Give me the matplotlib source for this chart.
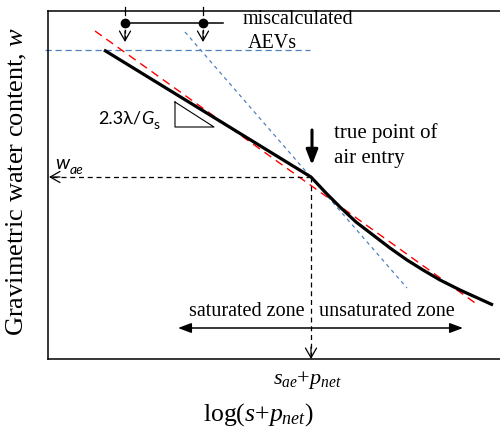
"""
Schematic soil-water characteristic curve (w vs log(s+p_net)).

Shows the true air-entry point and the AEVs that come out
when a straight line is fitted instead.
"""
import matplotlib
matplotlib.use('Agg')
from matplotlib import pyplot as plt

plt.rcParams['font.family'] = ['Liberation Serif', 'DejaVu Serif']
plt.rcParams['mathtext.fontset'] = 'custom'
plt.rcParams['mathtext.rm'] = 'Liberation Serif'
plt.rcParams['mathtext.it'] = 'Liberation Serif:italic'

# --- data (schematic units) ---
# measured curve: log(s+p_net) vs w
curve_logs = [56, 263, 278, 292, 308, 325, 342, 359, 375, 392, 412, 445]
curve_w = [309, 182, 166, 152, 137, 124, 111, 99, 89, 79, 69, 54]

# straight-line fit over whole curve (red) and unsaturated branch (blue)
red_fit_logs = [47, 430]
red_fit_w = [328, 54]
blue_fit_logs = [137, 359]
blue_fit_w = [327, 71]

# saturated water content level
w_sat = 309
w_sat_logs = [-3, 262]

# true air entry point
ae_logs = 263
ae_w = 182

# miscalculated AEVs
aev_logs = [77, 155]
aev_line_end = 175
aev_w = 336

# zone arrow
zone_logs = [130, 415]
zone_w = 31

# slope triangle
tri_logs = [127, 127, 166, 127]
tri_w = [257, 232, 232, 257]

SANS = 'Lato'
BLUE = '#4f81bd'

fig = plt.figure(figsize=(5.0, 4.34), dpi=100)
ax = fig.add_axes([48 / 500, 75 / 434, 452 / 500, 348 / 434])
ax.set_xlim(0, 452)
ax.set_ylim(0, 348)
ax.set_xticks([])
ax.set_yticks([])
ax.spines['right'].set_visible(False)
for s in ['left', 'top', 'bottom']:
    ax.spines[s].set_linewidth(1.1)

# fitted lines
ax.plot(w_sat_logs, [w_sat, w_sat], color=BLUE, lw=0.9, dashes=(5, 3), clip_on=False)
ax.plot(red_fit_logs, red_fit_w, color='red', lw=1.0, dashes=(6, 4))
ax.plot(blue_fit_logs, blue_fit_w, color=BLUE, lw=0.9, dashes=(3, 3))

# measured curve
ax.plot(curve_logs, curve_w, color='black', lw=2.3, solid_joinstyle='round',
        solid_capstyle='butt')

# projections of the air entry point
ax.plot([ae_logs, 3], [ae_w, ae_w], color='black', lw=0.9, dashes=(4, 3))
ax.plot([ae_logs, ae_logs], [ae_w, 2], color='black', lw=0.9, dashes=(4, 3))
open_head = dict(arrowstyle='->,head_length=0.7,head_width=0.4', lw=0.9,
                 color='black', shrinkA=0, shrinkB=0)
ax.annotate('', xy=(1, ae_w), xytext=(12, ae_w), arrowprops=open_head,
            annotation_clip=False)
ax.annotate('', xy=(ae_logs, 0), xytext=(ae_logs, 12), arrowprops=open_head,
            annotation_clip=False)

# big arrow pointing to true AEV
ax.annotate('', xy=(ae_logs + 1, ae_w + 12), xytext=(ae_logs + 1, ae_w + 47),
            arrowprops=dict(arrowstyle='-|>,head_length=0.9,head_width=0.35',
                            lw=2.2, color='black', shrinkA=0, shrinkB=0))
ax.text(ae_logs + 23, ae_w + 44, 'true point of', fontsize=15, va='center')
ax.text(ae_logs + 23, ae_w + 19, 'air entry', fontsize=15, va='center')

# miscalculated AEVs markers
ax.plot([aev_logs[0], aev_line_end], [aev_w, aev_w], color='black', lw=1.1)
ax.plot(aev_logs, [aev_w, aev_w], 'o', color='black', ms=6)
for x in aev_logs:
    ax.plot([x, x], [344, 352], color='black', lw=0.9, clip_on=False)
    ax.plot([x, x], [aev_w, 320], color='black', lw=0.9, dashes=(3, 2))
    ax.annotate('', xy=(x, 317), xytext=(x, 328), arrowprops=open_head)
ax.text(195, 340, 'miscalculated', fontsize=14.5, va='center')
ax.text(200, 316, 'AEVs', fontsize=14.5, va='center')

# slope triangle and label
ax.plot(tri_logs, tri_w, color='black', lw=0.8)
t1 = ax.text(50, 232, '2.3λ/', fontsize=13, family=SANS, va='bottom')
t2 = ax.annotate('G', xy=(1, 0), xycoords=t1, fontsize=13, family=SANS,
                 style='italic', va='bottom')
ax.annotate('s', xy=(1, 0), xycoords=t2, xytext=(0.5, -3),
            textcoords='offset points', fontsize=10, family=SANS, va='bottom')

# w_ae label
t3 = ax.text(7, 187, 'w', fontsize=14, family=SANS, style='italic', va='bottom')
ax.annotate('ae', xy=(1, 0), xycoords=t3, xytext=(0.5, -3),
            textcoords='offset points', fontsize=10, family=SANS,
            style='italic', va='bottom')

# zone arrow
ax.annotate('', xy=(zone_logs[0], zone_w), xytext=(zone_logs[1], zone_w),
            arrowprops=dict(arrowstyle='<|-|>,head_length=0.8,head_width=0.3',
                            lw=1.1, color='black', shrinkA=0, shrinkB=0))
ax.text(199, 47, 'saturated zone', fontsize=14.5, ha='center', va='center')
ax.text(339, 47, 'unsaturated zone', fontsize=14.5, ha='center', va='center')

# axis texts
ax.text(ae_logs - 4, -21, '$s_{ae}$+$p_{net}$', fontsize=16, ha='center',
        va='center', clip_on=False)
ax.text(210, -56, 'log($s$+$p_{net}$)', fontsize=18.5, ha='center',
        va='center', clip_on=False)
ax.text(-31, 178, 'Gravimetric water content, $w$', fontsize=19,
        rotation=90, ha='center', va='center', clip_on=False)

fig.savefig('out.png', dpi=100)
